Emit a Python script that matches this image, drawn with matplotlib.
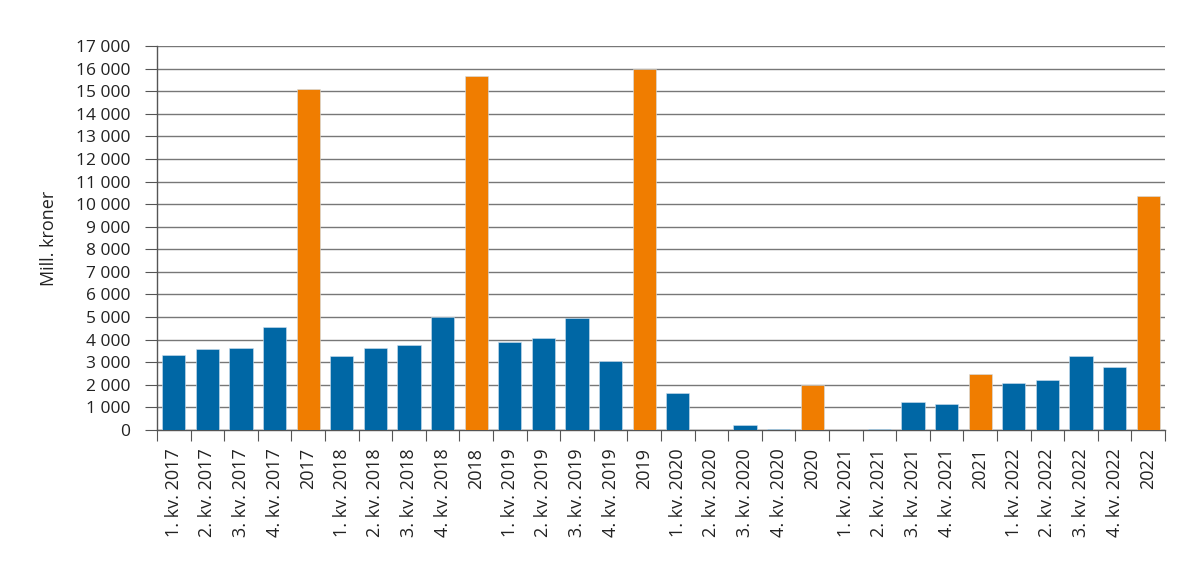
import matplotlib
matplotlib.use("Agg")
import matplotlib.pyplot as plt
from matplotlib.ticker import FuncFormatter, MultipleLocator

plt.rcParams['font.family'] = ['Open Sans', 'DejaVu Sans']

categories = [
    "1. kv. 2017", "2. kv. 2017", "3. kv. 2017", "4. kv. 2017", "2017",
    "1. kv. 2018", "2. kv. 2018", "3. kv. 2018", "4. kv. 2018", "2018",
    "1. kv. 2019", "2. kv. 2019", "3. kv. 2019", "4. kv. 2019", "2019",
    "1. kv. 2020", "2. kv. 2020", "3. kv. 2020", "4. kv. 2020", "2020",
    "1. kv. 2021", "2. kv. 2021", "3. kv. 2021", "4. kv. 2021", "2021",
    "1. kv. 2022", "2. kv. 2022", "3. kv. 2022", "4. kv. 2022", "2022",
]
values = [
    3300, 3600, 3620, 4550, 15080,
    3290, 3650, 3760, 5000, 15680,
    3900, 4090, 4950, 3060, 16000,
    1640, 20, 220, 60, 2000,
    15, 30, 1250, 1160, 2490,
    2070, 2210, 3260, 2800, 10350,
]
is_year = [c.isdigit() for c in categories]

BLUE = "#0067A5"
ORANGE = "#F07D00"

fig = plt.figure(figsize=(12, 5.69), dpi=100)
ax = fig.add_axes([0.1308, 0.2443, 0.84, 0.6749])

x = list(range(len(categories)))
colors = [ORANGE if y else BLUE for y in is_year]
ax.bar(x, values, width=0.69, color=colors, edgecolor="#cfe0ee", linewidth=0.4, zorder=3)

ax.set_xlim(-0.5, len(categories) - 0.5)
ax.set_ylim(0, 17000)
ax.yaxis.set_major_locator(MultipleLocator(1000))
ax.yaxis.set_major_formatter(FuncFormatter(lambda v, p: f"{int(v):,}".replace(",", " ")))
ax.grid(axis="y", color="#777777", linewidth=1.0, zorder=0)

for s in ["top", "right"]:
    ax.spines[s].set_visible(False)
for s in ["left", "bottom"]:
    ax.spines[s].set_color("#555555")
    ax.spines[s].set_linewidth(1.0)

ax.tick_params(axis="y", length=9, color="#555555", labelsize=12.5, labelcolor="#222222", pad=10)
ax.set_xticks([i - 0.5 for i in range(len(categories) + 1)], minor=False)
ax.set_xticklabels([])
ax.tick_params(axis="x", which="major", length=8, color="#555555", direction="out")
ax.set_xticks(x, minor=True)
ax.set_xticklabels(categories, minor=True, rotation=90, fontsize=13, color="#222222", va="top")
ax.tick_params(axis="x", which="minor", length=0, pad=13)

ax.set_ylabel("Mill. kroner", fontsize=13, color="#222222", labelpad=13)

fig.savefig("out.png", dpi=100)
